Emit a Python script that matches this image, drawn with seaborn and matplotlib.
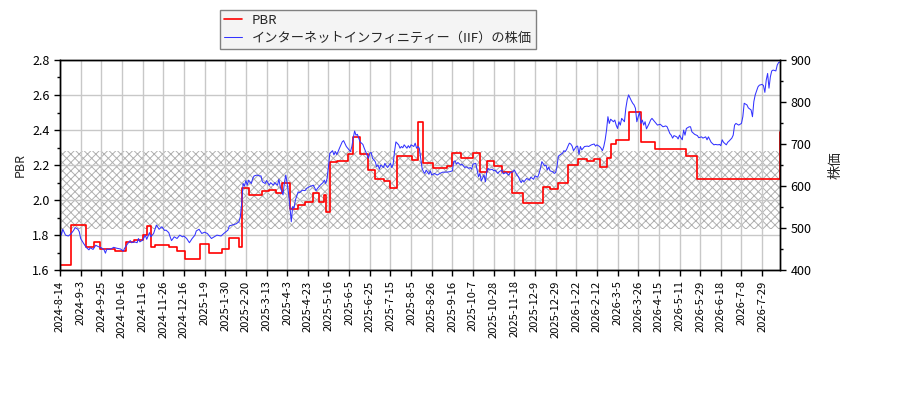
import numpy as np
import pandas as pd
import matplotlib
matplotlib.use("Agg")
import matplotlib.pyplot as plt
import seaborn as sns
from matplotlib.ticker import MultipleLocator

# ---------------- data ----------------
tick_labels = ["2024-8-14", "2024-9-3", "2024-9-25", "2024-10-16", "2024-11-6", "2024-11-26",
               "2024-12-16", "2025-1-9", "2025-1-30", "2025-2-20", "2025-3-13", "2025-4-3",
               "2025-4-23", "2025-5-16", "2025-6-5", "2025-6-25", "2025-7-15", "2025-8-5",
               "2025-8-26", "2025-9-16", "2025-10-7", "2025-10-28", "2025-11-18", "2025-12-9",
               "2025-12-29", "2026-1-22", "2026-2-12", "2026-3-5", "2026-3-26", "2026-4-15",
               "2026-5-11", "2026-5-29", "2026-6-18", "2026-7-8", "2026-7-29"]
tick_step = 15          # trading days between labelled ticks
n_days = 524            # trading days shown

# PBR step changes (trading-day index, value)
pbr_idx = [0, 8, 19, 25, 29, 40, 48, 54, 60, 63, 66, 69, 79, 85, 91, 102, 108, 118, 123, 130,
           132, 137, 147, 152, 157, 161, 167, 173, 178, 184, 188, 192, 193, 196, 201, 209, 213,
           218, 224, 229, 235, 240, 245, 256, 260, 264, 271, 281, 285, 291, 300, 305, 310, 315,
           321, 328, 336, 351, 356, 362, 369, 376, 383, 388, 392, 397, 400, 404, 413, 422, 432,
           455, 463, 523]
pbr_val = [1.63, 1.86, 1.73, 1.76, 1.72, 1.71, 1.76, 1.77, 1.80, 1.85, 1.73, 1.745, 1.73, 1.71,
           1.663, 1.747, 1.70, 1.72, 1.785, 1.73, 2.067, 2.03, 2.05, 2.06, 2.038, 2.10, 1.947,
           1.97, 1.99, 2.038, 1.99, 2.03, 1.93, 2.215, 2.223, 2.265, 2.36, 2.261, 2.17, 2.118,
           2.11, 2.067, 2.25, 2.23, 2.447, 2.212, 2.185, 2.195, 2.267, 2.238, 2.267, 2.16, 2.221,
           2.194, 2.16, 2.04, 1.981, 2.076, 2.061, 2.10, 2.20, 2.236, 2.223, 2.236, 2.187, 2.238,
           2.318, 2.343, 2.505, 2.33, 2.29, 2.251, 2.118, 2.387]

# stock price (trading-day index, yen)
price_idx = [0, 1, 2, 4, 6, 8, 10, 11, 13, 14, 15, 17, 19, 21, 22, 24, 26, 27, 29, 30, 32, 33, 34,
             36, 38, 39, 41, 44, 46, 47, 49, 51, 52, 54, 56, 57, 58, 60, 62, 63, 65, 66, 68, 69,
             70, 72, 74, 76, 77, 79, 80, 81, 83, 85, 87, 89, 90, 92, 94, 96, 98, 99, 101, 103,
             105, 107, 110, 112, 114, 117, 119, 122, 123, 125, 128, 130, 131, 132, 133, 134, 135,
             136, 137, 139, 140, 141, 143, 145, 146, 147, 149, 150, 152, 153, 155, 156, 158, 159,
             160, 162, 163, 164, 165, 166, 167, 168, 169, 170, 171, 173, 174, 176, 178, 179, 181,
             184, 186, 187, 189, 191, 192, 193, 194, 195, 196, 198, 199, 200, 201, 202, 203, 205,
             206, 208, 210, 211, 212, 213, 214, 215, 216, 218, 219, 220, 221, 223, 224, 225, 226,
             227, 229, 230, 231, 232, 233, 235, 236, 237, 238, 240, 241, 242, 243, 244, 246, 247,
             248, 249, 250, 252, 253, 254, 255, 257, 258, 259, 260, 261, 262, 263, 264, 265, 266,
             268, 269, 270, 272, 274, 276, 278, 281, 283, 285, 286, 287, 288, 289, 291, 292, 294,
             295, 297, 298, 299, 300, 302, 303, 304, 305, 306, 308, 309, 310, 311, 312, 314, 315,
             316, 318, 319, 321, 322, 324, 326, 327, 329, 330, 332, 333, 334, 335, 336, 337, 339,
             341, 342, 344, 345, 347, 348, 349, 350, 352, 353, 354, 355, 356, 358, 359, 360, 361,
             362, 364, 365, 366, 367, 368, 369, 370, 371, 372, 373, 375, 376, 377, 378, 379, 381,
             383, 384, 386, 388, 389, 390, 392, 393, 394, 395, 396, 397, 398, 399, 400, 402, 403,
             404, 405, 406, 407, 408, 410, 411, 412, 413, 415, 416, 417, 418, 419, 420, 421, 422,
             423, 424, 425, 426, 428, 429, 430, 431, 433, 434, 436, 438, 440, 441, 443, 444, 445,
             446, 448, 449, 450, 451, 452, 453, 454, 455, 457, 458, 459, 461, 463, 464, 466, 467,
             469, 470, 471, 473, 475, 476, 478, 479, 480, 481, 482, 484, 485, 486, 488, 489, 490,
             491, 493, 495, 496, 497, 499, 500, 502, 503, 504, 505, 507, 508, 510, 511, 512, 513,
             514, 515, 516, 517, 518, 520, 521, 522, 523]
price_val = [499, 483, 497, 483, 481, 486, 495, 501, 497, 491, 475, 464, 454, 448, 453, 449, 459,
             457, 454, 453, 448, 440, 450, 449, 452, 454, 452, 450, 445, 452, 462, 470, 465, 467,
             465, 475, 467, 471, 483, 473, 489, 479, 487, 497, 507, 497, 503, 494, 495, 489, 479,
             470, 479, 475, 483, 479, 481, 475, 465, 475, 483, 493, 497, 487, 490, 487, 475, 479,
             483, 481, 487, 495, 505, 507, 510, 515, 527, 559, 606, 600, 613, 602, 614, 606, 618,
             624, 626, 624, 624, 610, 606, 613, 602, 608, 602, 608, 602, 616, 598, 579, 608, 626,
             606, 583, 551, 515, 551, 547, 567, 586, 584, 590, 589, 594, 598, 602, 589, 594, 602,
             608, 614, 606, 618, 646, 678, 684, 674, 682, 675, 682, 690, 705, 708, 694, 686, 682,
             694, 714, 731, 721, 723, 705, 702, 699, 690, 674, 666, 678, 680, 666, 658, 646, 650,
             640, 650, 644, 654, 648, 644, 654, 644, 652, 682, 705, 698, 690, 694, 691, 698, 690,
             696, 691, 698, 694, 702, 690, 694, 690, 666, 642, 634, 630, 638, 628, 636, 626, 630,
             626, 630, 633, 633, 634, 636, 658, 660, 652, 656, 650, 652, 644, 646, 642, 644, 640,
             652, 654, 638, 622, 630, 612, 626, 610, 634, 642, 638, 640, 636, 638, 630, 634, 638,
             629, 632, 626, 632, 634, 638, 626, 622, 614, 608, 614, 610, 618, 614, 621, 616, 624,
             621, 630, 642, 658, 648, 650, 638, 645, 636, 634, 630, 632, 646, 671, 676, 678, 684,
             682, 687, 695, 702, 700, 695, 684, 694, 695, 676, 694, 686, 694, 695, 694, 698, 700,
             695, 698, 694, 690, 684, 694, 710, 733, 765, 749, 759, 753, 757, 745, 737, 753, 745,
             761, 753, 785, 805, 817, 803, 797, 793, 785, 753, 765, 775, 749, 757, 745, 753, 736,
             749, 757, 761, 757, 749, 745, 747, 741, 743, 741, 725, 721, 714, 720, 717, 712, 721,
             715, 710, 733, 721, 737, 741, 741, 729, 723, 720, 715, 717, 714, 717, 710, 717, 704,
             698, 699, 698, 699, 696, 710, 704, 698, 704, 707, 714, 721, 745, 749, 745, 749, 765,
             797, 793, 786, 781, 765, 801, 817, 836, 840, 842, 839, 823, 852, 868, 833, 860, 874,
             876, 874, 888, 894, 895]

band_low, band_high = 1.835, 2.28   # hatched PBR range

pbr_label = "PBR"
price_label = "インターネットインフィニティー（IIF）の株価"
price_axis_label = "株価"

# ---------------- plot ----------------
sns.set_style("ticks")
plt.rcParams["font.family"] = ["Noto Sans CJK JP", "DejaVu Sans"]
plt.rcParams["font.size"] = 9
plt.rcParams["hatch.linewidth"] = 0.7

pbr_df = pd.DataFrame({"idx": pbr_idx, "pbr": pbr_val})
price_df = pd.DataFrame({"idx": price_idx, "price": price_val})

fig = plt.figure(figsize=(9, 4), dpi=100)
ax1 = fig.add_axes([60 / 900, 130 / 400, 720 / 900, 210 / 400])
ax2 = ax1.twinx()

ax1.axhspan(band_low, band_high, facecolor="none", edgecolor="#b0b0b0",
            hatch="xxxx", linewidth=0, zorder=0)

sns.lineplot(data=pbr_df, x="idx", y="pbr", ax=ax1, color="#ff0000", linewidth=1.2,
             drawstyle="steps-post", estimator=None, legend=False)
sns.lineplot(data=price_df, x="idx", y="price", ax=ax2, color="#3333ff", linewidth=0.75,
             estimator=None, legend=False)

ax1.set_xlim(0, n_days - 1)
ax1.set_ylim(1.6, 2.8)
ax2.set_ylim(400, 900)

ax1.yaxis.set_major_locator(MultipleLocator(0.2))
ax1.yaxis.set_minor_locator(MultipleLocator(0.1))
ax2.yaxis.set_major_locator(MultipleLocator(100))
ax2.yaxis.set_minor_locator(MultipleLocator(50))

tick_pos = np.arange(len(tick_labels)) * tick_step
ax1.set_xticks(tick_pos)
ax1.set_xticklabels(tick_labels, rotation=90)

ax1.grid(True, which="major", color="#c8c8c8", linewidth=1.0)
ax2.grid(False)

for ax in (ax1, ax2):
    ax.tick_params(which="major", direction="out", length=4, width=1, colors="black",
                   labelsize=9)
    ax.tick_params(which="minor", direction="out", length=2, width=1, colors="black")
    for s in ax.spines.values():
        s.set_visible(True)
        s.set_color("black")
        s.set_linewidth(1.0)
ax1.tick_params(axis="x", labelsize=8)

ax1.set_xlabel("")
ax1.set_ylabel(pbr_label, fontsize=9)
ax2.set_ylabel(price_axis_label, fontsize=10, labelpad=12)

leg = fig.legend(handles=[ax1.lines[0], ax2.lines[0]], labels=[pbr_label, price_label],
                 loc="upper left", bbox_to_anchor=(220 / 900, 1 - 10 / 400),
                 frameon=True, fancybox=False, edgecolor="#808080", facecolor="#f4f4f4",
                 framealpha=1, fontsize=9.5, borderaxespad=0, handlelength=1.4,
                 handletextpad=0.7, borderpad=0.3, labelspacing=0.35)

fig.savefig("out.png", dpi=100)
